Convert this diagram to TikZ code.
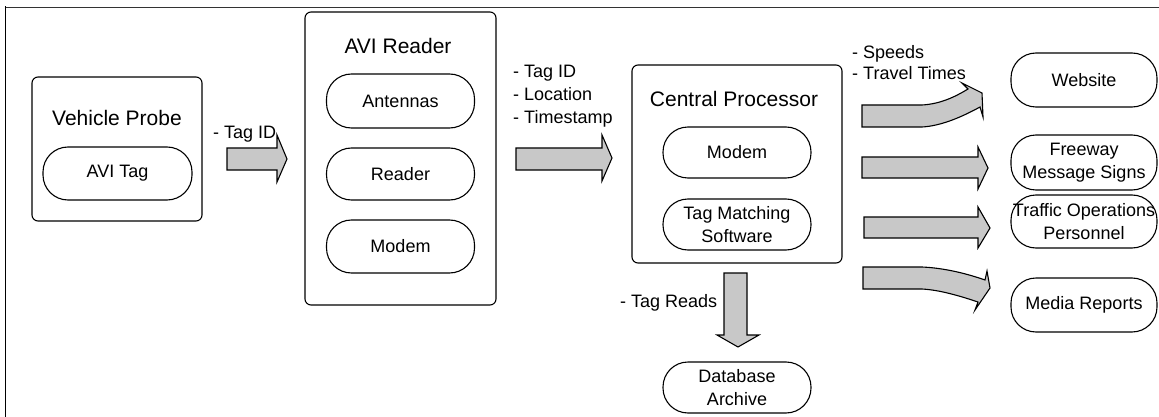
\documentclass[tikz,border=0pt]{standalone}
\usepackage{fontspec}
\setmainfont{Liberation Sans}
\definecolor{arrowgray}{RGB}{200,200,200}
\tikzset{
  bigbox/.style={draw=black, line width=1.1pt, rounded corners=6pt, inner sep=0pt},
  stadium/.style={draw=black, line width=1.1pt, rounded corners=25pt, inner sep=0pt,
    minimum width=148pt, minimum height=52pt, align=center,
    font=\fontsize{18}{23}\selectfont},
  titletxt/.style={inner sep=0pt, anchor=base, font=\fontsize{21}{25}\selectfont},
  labeltxt/.style={inner sep=0pt, align=left, font=\fontsize{18}{23}\selectfont},
  blockarrow/.style={draw=black, fill=arrowgray, line width=1.1pt, line join=miter}
}
\begin{document}
\begin{tikzpicture}[x=1pt,y=-1pt]
\useasboundingbox (0,0) rectangle (1159,417);
% outer frame (top and left only visible)
\draw[line width=0.9pt, black!80] (5,7) -- (1159,7);
\draw[line width=1.8pt] (5.5,6.5) -- (5.5,417);

% Vehicle Probe
\node[bigbox, minimum width=170pt, minimum height=144pt] (vp) at (117,149) {};
\node[titletxt] (vpt) at (117,126) {Vehicle Probe};
\node[stadium, minimum width=149pt, minimum height=53pt] (avitag) at (117.5,173.5) {AVI Tag};

% AVI Reader
\node[bigbox, minimum width=191pt, minimum height=293pt] (ar) at (400.5,158.5) {};
\node[titletxt] (art) at (398,54) {AVI Reader};
\node[stadium, minimum height=54pt] (ant) at (400.5,101) {Antennas};
\node[stadium] (rdr) at (400.5,174) {Reader};
\node[stadium, minimum height=53pt] (mdm1) at (400.5,246.5) {Modem};

% Central Processor
\node[bigbox, minimum width=210pt, minimum height=198pt] (cp) at (737,164) {};
\node[titletxt] (cpt) at (734,107) {Central Processor};
\node[stadium, minimum height=51pt] (mdm2) at (737,152.5) {Modem};
\node[stadium, minimum height=51pt] (tms) at (737,224.5) {Tag Matching\\Software};
\node[stadium, minimum height=51pt] (db) at (737,387.5) {Database\\Archive};

% Outputs
\node[stadium, minimum width=146pt, minimum height=54pt] (web) at (1084,80) {Website};
\node[stadium, minimum width=146pt, minimum height=55pt] (fms) at (1084,162.5) {Freeway\\Message Signs};
\node[stadium, minimum width=146pt, minimum height=53pt] (top) at (1084,221.5) {\makebox[120pt]{Traffic Operations}\\Personnel};
\node[stadium, minimum width=146pt, minimum height=54pt] (med) at (1084,305) {Media Reports};

% Labels
\node[labeltxt, anchor=base west] (l1) at (213,139) {- Tag ID};
\node[labeltxt, anchor=north west] (l2) at (513,65) {- Tag ID\\- Location\\- Timestamp};
\node[labeltxt, anchor=base west] (l3) at (620,307) {- Tag Reads};
\node[labeltxt, anchor=north west, font=\fontsize{18}{21}\selectfont] (l4) at (852,45) {- Speeds\\- Travel Times};

% Block arrows
\draw[blockarrow] (227,148) -- (277,148) -- (277,135) -- (287,159) -- (277,182) -- (277,170) -- (227,170) -- cycle;
\draw[blockarrow] (516,148) -- (602,148) -- (602,135) -- (612,158) -- (602,181) -- (602,170) -- (516,170) -- cycle;
\draw[blockarrow] (724,273) -- (747,273) -- (747,335) -- (759,335) -- (738,347) -- (717,335) -- (724,335) -- cycle;
% curved up
\draw[blockarrow] (862,105) -- (922,105) .. controls (940,104) and (955,97) .. (968,89)
  -- (962,83) -- (982,93) -- (983,117) -- (980,107)
  .. controls (960,118) and (940,126) .. (922,127) -- (862,127) -- cycle;
% straight
\draw[blockarrow] (862,157) -- (978,157) -- (978,147) -- (988,168) -- (978,189) -- (978,178) -- (862,178) -- cycle;
\draw[blockarrow] (864,217) -- (978,217) -- (978,207) -- (990,228) -- (978,248) -- (978,238) -- (864,238) -- cycle;
% curved down
\draw[blockarrow] (863,267) -- (922,267) .. controls (945,268) and (968,274) .. (985,280)
  -- (987,271) -- (990,288) -- (975,310) -- (978,302)
  .. controls (960,296) and (940,290) .. (922,289) -- (863,289) -- cycle;
\end{tikzpicture}
\end{document}
